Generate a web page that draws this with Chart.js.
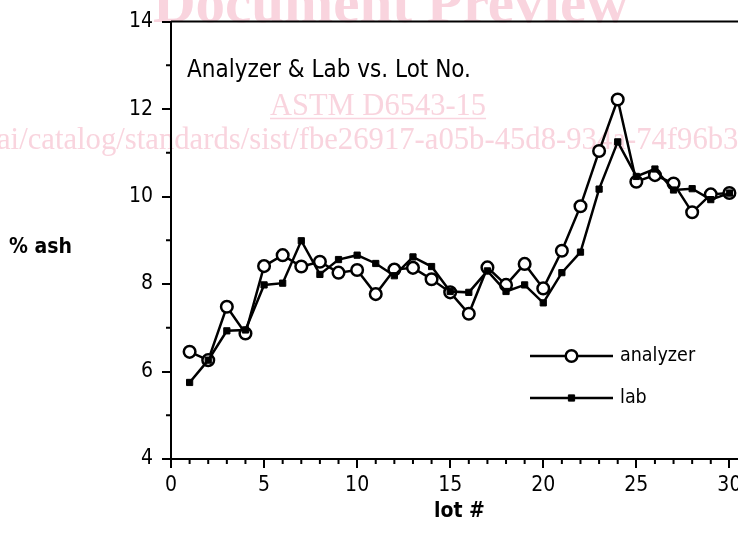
<!DOCTYPE html>
<html><head><meta charset="utf-8">
<script src="https://cdn.jsdelivr.net/npm/chart.js@4/dist/chart.umd.min.js"></script>
<style>
html,body{margin:0;padding:0;background:#fff;overflow:hidden;width:738px;height:546px;}
#wrap{position:relative;width:738px;height:546px;overflow:hidden;}
#c{position:absolute;left:0;top:0;}
</style></head><body>
<div id="wrap"><canvas id="c" width="760" height="546"></canvas></div>
<script>
const lots = [1,2,3,4,5,6,7,8,9,10,11,12,13,14,15,16,17,18,19,20,21,22,23,24,25,26,27,28,29,30];
const analyzer = [6.45,6.26,7.48,6.87,8.41,8.66,8.40,8.51,8.26,8.32,7.77,8.33,8.37,8.11,7.81,7.32,8.38,7.98,8.46,7.90,8.76,9.78,11.04,12.22,10.34,10.49,10.30,9.64,10.05,10.08];
const lab = [5.75,6.26,6.93,6.95,7.98,8.02,8.99,8.22,8.56,8.66,8.47,8.19,8.62,8.40,7.83,7.81,8.30,7.83,7.98,7.57,8.26,8.73,10.17,11.25,10.46,10.63,10.15,10.18,9.93,10.08];
const xTicks = [0,5,10,15,20,25,30];
const yTicks = [4,6,8,10,12,14];
const chartTitle = 'Analyzer & Lab vs. Lot No.';
const yTitle = '% ash';
const xTitle = 'lot #';
const wmLines = ['Document Preview','ASTM D6543-15','ai/catalog/standards/sist/fbe26917-a05b-45d8-934a-74f96b3'];

const FONT = "'DejaVu Sans Condensed','DejaVu Sans',sans-serif";
const WMCOL = 'rgb(249,212,222)';

const decor = {
  id:'decor',
  beforeDraw(chart){
    const c = chart.ctx;
    c.save();
    c.fillStyle = WMCOL; c.strokeStyle = WMCOL;
    c.textBaseline = 'alphabetic'; c.textAlign = 'left';
    c.font = "bold 59px 'Liberation Serif',serif";
    c.fillText(wmLines[0], 153, 22);
    c.font = "30.5px 'Liberation Serif',serif";
    c.fillText(wmLines[1], 270, 115);
    const w = c.measureText(wmLines[1]).width;
    c.lineWidth = 1.5;
    c.beginPath(); c.moveTo(270,118.5); c.lineTo(270+w,118.5); c.stroke();
    c.font = "30.7px 'Liberation Serif',serif";
    c.fillText(wmLines[2], -3, 149);
    c.restore();
  },
  afterDraw(chart){
    const c = chart.ctx, a = chart.chartArea;
    const xs = chart.scales.x, ys = chart.scales.y;
    c.save();
    c.strokeStyle = '#000'; c.lineWidth = 2;
    c.beginPath(); c.moveTo(a.left, a.top); c.lineTo(a.right, a.top); c.stroke();
    c.beginPath();
    for (let v = xs.min; v <= xs.max; v++) {
      if (v % 5 === 0) continue;
      const p = xs.getPixelForValue(v);
      c.moveTo(p, a.bottom); c.lineTo(p, a.bottom + 5);
    }
    for (let v = ys.min; v <= ys.max; v++) {
      if (v % 2 === 0) continue;
      const p = ys.getPixelForValue(v);
      c.moveTo(a.left, p); c.lineTo(a.left - 5, p);
    }
    c.stroke();
    c.fillStyle = '#000'; c.textAlign = 'left'; c.textBaseline = 'alphabetic';
    c.font = "24px " + FONT;
    c.fillText(chartTitle, 187, 77);
    c.font = "bold 21px " + FONT; c.textBaseline = 'middle';
    c.fillText(yTitle, 9, 248);
    const ds = chart.data.datasets;
    const rows = [356, 398];
    ds.forEach((d, i) => {
      const y = rows[i];
      c.lineWidth = d.borderWidth; c.strokeStyle = d.borderColor;
      c.beginPath(); c.moveTo(530, y); c.lineTo(613, y); c.stroke();
      const mx = 571.5;
      c.lineWidth = d.pointBorderWidth;
      c.fillStyle = d.pointBackgroundColor;
      c.beginPath();
      if (d.pointStyle === 'circle') {
        c.arc(mx, y, d.pointRadius, 0, Math.PI*2);
      } else {
        const s = d.pointRadius / Math.SQRT2;
        c.rect(mx - s, y - s, 2*s, 2*s);
      }
      c.fill(); c.stroke();
      c.fillStyle = '#000';
      c.font = "19.5px " + FONT; c.textBaseline = 'middle';
      c.fillText(d.label, 620, y);
    });
    c.restore();
  }
};

const tickFont = {family: FONT, size: 21};
new Chart(document.getElementById('c'), {
  type: 'line',
  data: {
    datasets: [
      {label:'analyzer', data: lots.map((x,i)=>({x, y: analyzer[i]})), borderColor:'#000', borderWidth:2.5,
       pointStyle:'circle', pointRadius:5.8, pointBackgroundColor:'#fff', pointBorderColor:'#000', pointBorderWidth:2.5, order:1, tension:0},
      {label:'lab', data: lots.map((x,i)=>({x, y: lab[i]})), borderColor:'#000', borderWidth:2.5,
       pointStyle:'rect', pointRadius:4.4, pointBackgroundColor:'#000', pointBorderColor:'#000', pointBorderWidth:1, order:0, tension:0}
    ]
  },
  options: {
    responsive:false, animation:false, devicePixelRatio:1,
    layout:{padding:{left:0, top:17, right:12, bottom:0}},
    plugins:{legend:{display:false}, tooltip:{enabled:false}, title:{display:false}},
    scales:{
      x:{type:'linear', min:0, max:31,
         afterFit(s){ s.height = 87; },
         afterBuildTicks(s){ s.ticks = xTicks.map(v=>({value:v})); },
         ticks:{font:tickFont, color:'#000', padding:5, maxRotation:0, autoSkip:false},
         grid:{drawOnChartArea:false, tickLength:9, color:'#000', lineWidth:2},
         border:{color:'#000', width:2},
         title:{display:true, text:xTitle, color:'#000', font:{family:FONT, size:21, weight:'bold'}, padding:{top:0, bottom:22}}},
      y:{type:'linear', min:4, max:14,
         afterFit(s){ s.width = 171; },
         afterBuildTicks(s){ s.ticks = yTicks.map(v=>({value:v})); },
         ticks:{font:tickFont, color:'#000', padding:9, autoSkip:false},
         grid:{drawOnChartArea:false, tickLength:9, color:'#000', lineWidth:2},
         border:{color:'#000', width:2}}
    }
  },
  plugins:[decor]
});
</script>
</body></html>
